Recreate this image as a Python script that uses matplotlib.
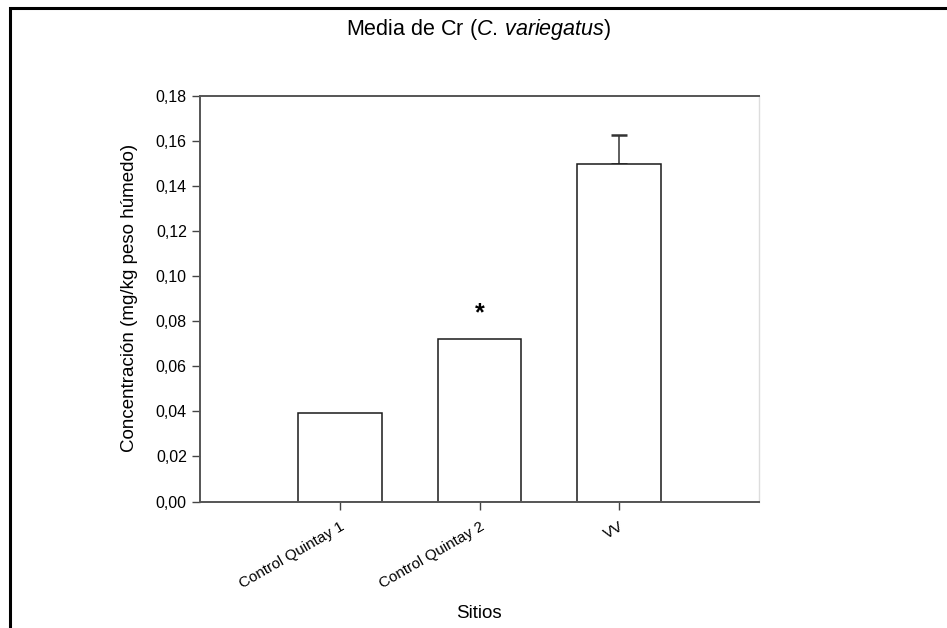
import matplotlib
matplotlib.use("Agg")
import matplotlib.pyplot as plt
from matplotlib.patches import Rectangle

plt.rcParams['font.family'] = ['Liberation Sans', 'DejaVu Sans']
plt.rcParams['mathtext.fontset'] = 'custom'
plt.rcParams['mathtext.rm'] = 'Liberation Sans'
plt.rcParams['mathtext.it'] = 'Liberation Sans:italic'

sitios = ["Control Quintay 1", "Control Quintay 2", "VV"]
medias = [0.0392, 0.0723, 0.1497]
errores = [0.0, 0.0, 0.0130]
yticks = [0.00, 0.02, 0.04, 0.06, 0.08, 0.10, 0.12, 0.14, 0.16, 0.18]
ytick_labels = ["0,00", "0,02", "0,04", "0,06", "0,08", "0,10", "0,12", "0,14", "0,16", "0,18"]

fig = plt.figure(figsize=(9.47, 6.28), dpi=100)
W, H = 947, 628
ax = fig.add_axes([200 / W, 1 - 501.5 / H, 559 / W, 405.5 / H])

x = list(range(len(sitios)))
ax.bar(x, medias, width=0.6, color="white", edgecolor="#1a1a1a", linewidth=1.1, zorder=2)
# only upper error bar
ax.errorbar(x[2], medias[2], yerr=[[0], [errores[2]]], fmt="none", ecolor="#333333",
            elinewidth=1.1, capsize=6, capthick=1.8, zorder=1)
ax.text(1, 0.0837, "*", ha="center", va="center", fontsize=18, fontweight="bold")

ax.set_xlim(-1, 3)
ax.set_ylim(0, 0.18)
ax.set_xticks(x)
ax.set_xticklabels(sitios, rotation=30, ha="right", rotation_mode="anchor", fontsize=11)
ax.set_yticks(yticks)
ax.set_yticklabels(ytick_labels, fontsize=11.5)
ax.tick_params(axis="both", direction="out", length=6, width=1, color="#444444")
ax.tick_params(axis="x", pad=7)
for s in ["left", "bottom", "top"]:
    ax.spines[s].set_color("#555555")
    ax.spines[s].set_linewidth(1.4)
ax.spines["right"].set_color("#dddddd")
ax.spines["right"].set_linewidth(1)

fig.text(130 / W, 1 - 298 / H, "Concentración (mg/kg peso húmedo)", rotation=90,
         ha="center", va="center", fontsize=13.5)
fig.text(479 / W, 1 - 613 / H, "Sitios", ha="center", va="center", fontsize=13.5)
fig.text(479 / W, 1 - 30 / H, r"Media de Cr ($\it{C.\,variegatus}$)", ha="center",
         va="center", fontsize=15.5)

# outer frame of the figure
fig.patches.append(Rectangle((10 / W, -0.05), 1.1, 1 - 8 / H + 0.05, transform=fig.transFigure,
                             fill=False, edgecolor="black", linewidth=2.2))

fig.savefig("out.png", dpi=100)
